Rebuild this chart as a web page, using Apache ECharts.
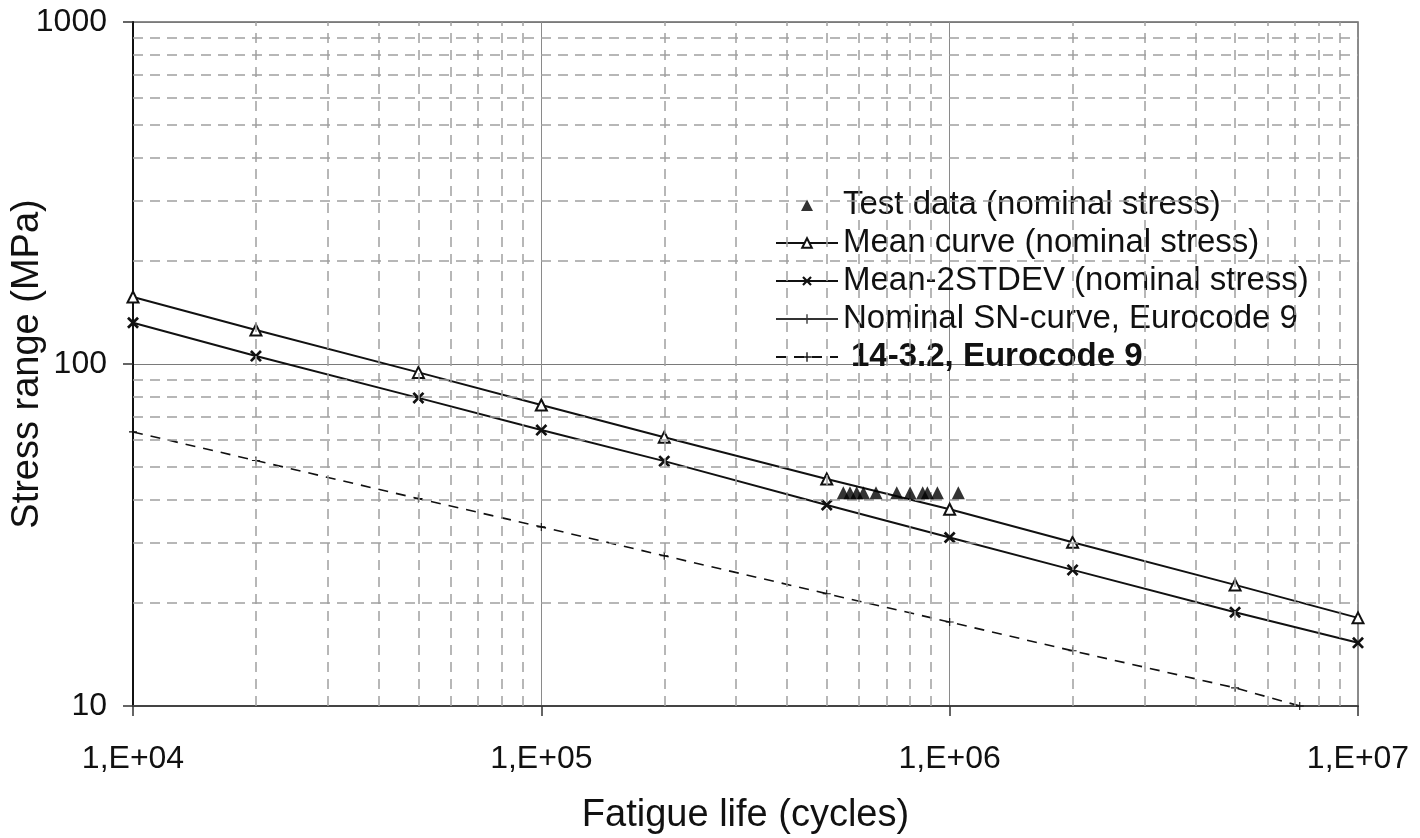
<!DOCTYPE html>
<html>
<head>
<meta charset="utf-8">
<script src="https://cdn.jsdelivr.net/npm/echarts@6/dist/echarts.min.js"></script>
<style>
  html, body { margin: 0; padding: 0; background: #fff; }
  #chart { width: 1420px; height: 838px; }
</style>
</head>
<body>
<div id="chart"></div>
<script>
// Fatigue life (cycles) at which the fitted curves are marked
const cycles = [1e4, 2e4, 5e4, 1e5, 2e5, 5e5, 1e6, 2e6, 5e6, 1e7];
// Mean S-N curve, nominal stress (MPa)
const meanCurve = [157, 125.7, 94.5, 75.9, 61.1, 46.1, 37.6, 30.1, 22.6, 18.1];
// Mean minus two standard deviations (MPa)
const meanMinus2Sd = [132, 105.5, 79.6, 64.1, 52.0, 38.7, 31.1, 25.0, 18.8, 15.3];
// Detail category 14-3.2, Eurocode 9
const ec9Cycles = [1e4, 2e4, 5e4, 1e5, 2e5, 5e5, 1e6, 2e6, 5e6, 7.2e6];
const ec9Stress = [63.3, 52.2, 40.4, 33.4, 27.5, 21.3, 17.6, 14.5, 11.3, 10];
// Test results (nominal stress)
const testCycles = [549e3, 570e3, 592e3, 615e3, 660e3, 742e3, 800e3, 859e3, 882e3, 933e3, 1050e3];
const testStress = [42, 42, 42, 42, 42, 42, 42, 42, 42, 42, 42];
// Nominal SN-curve, Eurocode 9 (legend entry only)
const nominalCycles = [];
const nominalStress = [];

// Axis ranges and minor grid positions
const xDecades = [1e4, 1e5, 1e6];
const yDecades = [10, 100];
const minorFactors = [2, 3, 4, 5, 6, 7, 8, 9];

const zip = (xs, ys) => xs.map((x, i) => [x, ys[i]]);

const FONT = '"Liberation Sans", Arial, Helvetica, sans-serif';
const crossPath = 'path://M0,1.6L1.6,0L5,3.4L8.4,0L10,1.6L6.6,5L10,8.4L8.4,10L5,6.6L1.6,10L0,8.4L3.4,5Z';
const plusPath = 'path://M4.3,0H5.7V4.3H10V5.7H5.7V10H4.3V5.7H0V4.3H4.3Z';
// legend icon: small filled triangle centred in a 62x12 box
const legendTriangle = 'path://M0,0L0.01,0L0,0.01Z M62,12L61.99,12L62,11.99Z M25,12L31,0.5L37,12Z';

const minorX = [];
xDecades.forEach(d => minorFactors.forEach(f => minorX.push({ xAxis: d * f })));
const minorY = [];
yDecades.forEach(d => minorFactors.forEach(f => minorY.push({ yAxis: d * f })));

const chart = echarts.init(document.getElementById('chart'), null, { renderer: 'canvas' });

const option = {
  animation: false,
  backgroundColor: '#fff',
  textStyle: { fontFamily: FONT, color: '#111' },
  grid: {
    left: 133, right: 62, top: 22, bottom: 132,
    containLabel: false,
    outerBoundsMode: 'none',
    show: true, borderColor: '#666', borderWidth: 1.5, backgroundColor: 'transparent'
  },
  legend: {
    orient: 'vertical',
    left: 770,
    top: 181,
    itemGap: 0,
    itemWidth: 62,
    itemHeight: 12,
    textStyle: { fontFamily: FONT, fontSize: 33, color: '#111', lineHeight: 38 },
    data: [
      { name: 'Test data (nominal stress)', icon: legendTriangle },
      { name: 'Mean curve (nominal stress)' },
      { name: 'Mean-2STDEV (nominal stress)' },
      { name: 'Nominal SN-curve, Eurocode 9' },
      { name: '14-3.2, Eurocode 9', textStyle: { fontWeight: 'bold', padding: [0, 0, 0, 8] } }
    ]
  },
  xAxis: {
    type: 'log',
    logBase: 10,
    min: 1e4,
    max: 1e7,
    name: 'Fatigue life (cycles)',
    nameLocation: 'middle',
    nameGap: 91,
    nameMoveOverlap: false,
    nameTextStyle: { fontFamily: FONT, fontSize: 38, color: '#111' },
    axisLine: { show: true, onZero: false, lineStyle: { color: '#444', width: 2 } },
    axisTick: { show: true, length: 10, lineStyle: { color: '#333', width: 1.5 } },
    axisLabel: {
      margin: 37,
      fontFamily: FONT, fontSize: 32, color: '#111',
      formatter: v => '1,E+' + String(Math.round(Math.log10(v))).padStart(2, '0')
    },
    splitLine: { show: true, lineStyle: { color: '#8a8a8a', width: 1 } }
  },
  yAxis: {
    type: 'log',
    logBase: 10,
    min: 10,
    max: 1000,
    name: 'Stress range (MPa)',
    nameLocation: 'middle',
    nameGap: 86,
    nameMoveOverlap: false,
    nameTextStyle: { fontFamily: FONT, fontSize: 38, color: '#111' },
    axisLine: { show: true, onZero: false, lineStyle: { color: '#111', width: 2 } },
    axisTick: { show: true, length: 10, lineStyle: { color: '#333', width: 1.5 } },
    axisLabel: {
      margin: 26, fontFamily: FONT, fontSize: 32, color: '#111',
      formatter: v => String(Math.round(v))
    },
    splitLine: { show: true, lineStyle: { color: '#7a7a7a', width: 1.2 } }
  },
  series: [
    {
      // minor grid at 2..9 of each decade
      name: 'minor-grid',
      type: 'line',
      data: [],
      z: 1,
      silent: true,
      legendHoverLink: false,
      markLine: {
        silent: true,
        symbol: ['none', 'none'],
        label: { show: false },
        emphasis: { disabled: true },
        lineStyle: { color: '#a0a0a0', width: 1.5, type: [10, 7] },
        data: minorX.concat(minorY)
      }
    },
    {
      name: 'Test data (nominal stress)',
      type: 'scatter',
      symbol: 'triangle',
      symbolSize: 13,
      itemStyle: { color: '#000' },
      z: 5,
      data: zip(testCycles, testStress)
    },
    {
      name: 'Mean curve (nominal stress)',
      type: 'line',
      symbol: 'emptyTriangle',
      symbolSize: 11,
      showAllSymbol: true,
      lineStyle: { color: '#111', width: 2 },
      itemStyle: { color: '#111', borderWidth: 1.5 },
      z: 4,
      data: zip(cycles, meanCurve)
    },
    {
      name: 'Mean-2STDEV (nominal stress)',
      type: 'line',
      symbol: crossPath,
      symbolSize: 12,
      showAllSymbol: true,
      lineStyle: { color: '#111', width: 2 },
      itemStyle: { color: '#111' },
      z: 4,
      data: zip(cycles, meanMinus2Sd)
    },
    {
      name: 'Nominal SN-curve, Eurocode 9',
      type: 'line',
      symbol: plusPath,
      symbolSize: 10,
      lineStyle: { color: '#333', width: 1 },
      itemStyle: { color: '#333' },
      data: zip(nominalCycles, nominalStress)
    },
    {
      name: '14-3.2, Eurocode 9',
      type: 'line',
      symbol: plusPath,
      symbolSize: 8,
      showAllSymbol: true,
      lineStyle: { color: '#111', width: 1.6, type: [10, 8] },
      itemStyle: { color: '#111' },
      z: 4,
      data: zip(ec9Cycles, ec9Stress)
    }
  ]
};

chart.setOption(option);
</script>
</body>
</html>
